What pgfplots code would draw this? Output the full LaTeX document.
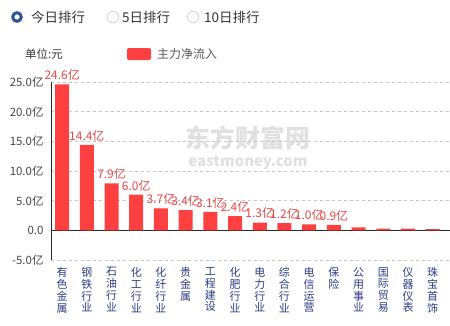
\documentclass[border=0pt]{standalone}
\usepackage{fontspec}
\setmainfont{Noto Sans CJK SC}
\usepackage{pgfplots}
\pgfplotsset{compat=1.18}
\definecolor{barred}{RGB}{255,64,64}
\definecolor{lblred}{RGB}{228,72,72}
\definecolor{navy}{RGB}{45,60,130}
\definecolor{radio}{RGB}{47,85,151}
\definecolor{radiolight}{RGB}{200,212,226}
\definecolor{txt}{RGB}{51,51,51}
\definecolor{ticktxt}{RGB}{70,70,70}
\begin{document}
\begin{tikzpicture}[x=1bp,y=1bp]
\path[use as bounding box] (0,0) rectangle (450,325);
% watermark
\node[text=black!12, font=\fontsize{25}{25}\selectfont\bfseries, anchor=center] at (248,187) {东方财富网};
\node[text=black!12, font=\fontsize{15}{15}\selectfont\bfseries, anchor=center] at (248,162) {eastmoney.com};
% header
\draw[radio, line width=3bp] (17,308) circle (4.3);
\node[anchor=west, text=txt, font=\fontsize{13.5}{14}\selectfont, inner sep=0] at (31,308) {今日排行};
\draw[radiolight, line width=0.8bp] (113,308) circle (5.8);
\node[anchor=west, text=txt, font=\fontsize{13.5}{14}\selectfont, inner sep=0] at (122,308) {5日排行};
\draw[radiolight, line width=0.8bp] (193,308) circle (5.8);
\node[anchor=west, text=txt, font=\fontsize{13.5}{14}\selectfont, inner sep=0] at (204,308) {10日排行};
\node[anchor=west, text=txt, font=\fontsize{11.5}{12}\selectfont, inner sep=0] at (25,271) {单位:元};
\fill[barred, rounded corners=2bp] (127,265) rectangle (151,277);
\node[anchor=west, text=black!65, font=\fontsize{12}{12}\selectfont, inner sep=0] at (157,271) {主力净流入};
\begin{axis}[
  at={(51bp,65bp)}, anchor=south west,
  scale only axis, width=399bp, height=178bp,
  xmin=-0.45, xmax=15.7, ymin=-5, ymax=25,
  axis line style={draw=none},
  tick style={draw=none},
  ytick={-5,0,5,10,15,20,25},
  yticklabels={-5.0亿,0.0,5.0亿,10.0亿,15.0亿,20.0亿,25.0亿},
  yticklabel style={text=ticktxt, font=\fontsize{11.5}{12}\selectfont, xshift=-4bp},
  ymajorgrids,
  grid style={dashed, black!22, line width=0.6bp},
  extra y ticks={0}, extra y tick labels={},
  extra y tick style={grid style={solid, black!85, line width=0.9bp}},
  xtick={0,...,15},
  xticklabels={{有\\色\\金\\属},{钢\\铁\\行\\业},{石\\油\\行\\业},{化\\工\\行\\业},{化\\纤\\行\\业},{贵\\金\\属},{工\\程\\建\\设},{化\\肥\\行\\业},{电\\力\\行\\业},{综\\合\\行\\业},{电\\信\\运\\营},{保\\险},{公\\用\\事\\业},{国\\际\\贸\\易},{仪\\器\\仪\\表},{珠\\宝\\首\\饰}},
  xticklabel style={text=navy, font=\fontsize{11}{11.8}\selectfont, align=center, anchor=north, yshift=-4bp},
  clip=false,
]
\addplot[ybar, bar width=14bp, fill=barred, draw=none,
  nodes near coords, point meta=explicit symbolic,
  every node near coord/.append style={text=lblred, font=\fontsize{12}{12}\selectfont, inner sep=3.5bp}]
 coordinates {(0,24.6)[24.6亿] (1,14.4)[14.4亿] (2,7.9)[7.9亿] (3,6.0)[6.0亿] (4,3.7)[3.7亿] (5,3.4)[3.4亿] (6,3.1)[3.1亿] (7,2.4)[2.4亿] (8,1.3)[1.3亿] (9,1.2)[1.2亿] (10,1.0)[1.0亿] (11,0.9)[0.9亿]};
\addplot[ybar, bar width=14bp, fill=barred, draw=none]
 coordinates {(12,0.5) (13,0.3) (14,0.3) (15,0.2)};
\draw[black!85, line width=0.9bp] (rel axis cs:0,0) -- (rel axis cs:0,1);
\end{axis}
\end{tikzpicture}
\end{document}
